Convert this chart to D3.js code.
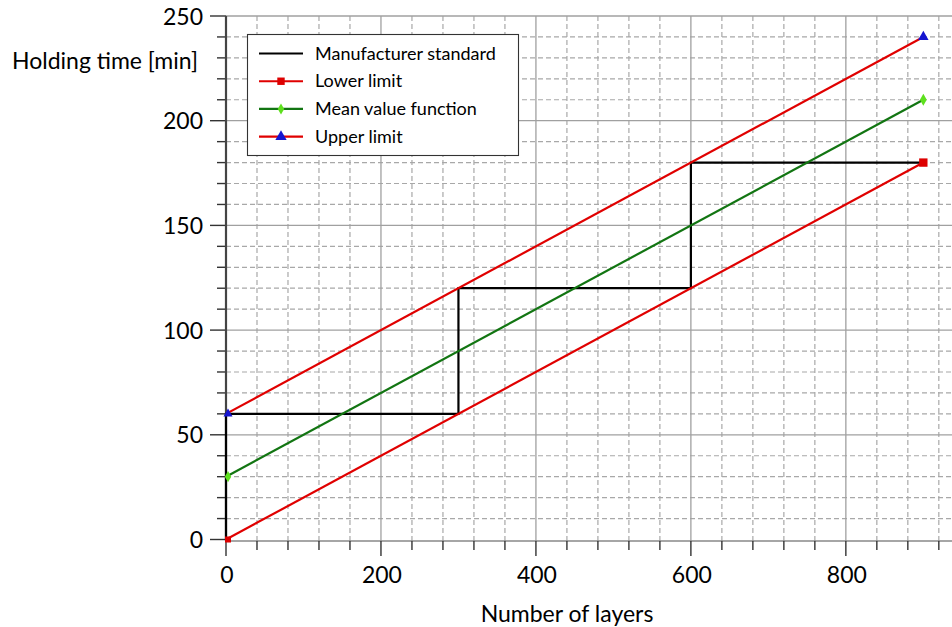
<!DOCTYPE html>
<html><head><meta charset="utf-8">
<script src="https://cdn.jsdelivr.net/npm/d3@7"></script>
<style>body{margin:0;background:#fff;} text{font-family:Lato,"Open Sans",sans-serif;}</style>
</head><body>
<svg id="c" width="952" height="627"></svg>
<script>
// ---- data ----
const stdX = [0, 0, 300, 300, 600, 600, 900];
const stdY = [0, 60, 60, 120, 120, 180, 180];
const limX = [0, 900];
const lowerY = [0, 180];
const meanY = [30, 210];
const upperY = [60, 240];
const xMajorTicks = [0, 200, 400, 600, 800];
const yMajorTicks = [0, 50, 100, 150, 200, 250];
const legendLabels = ["Manufacturer standard", "Lower limit", "Mean value function", "Upper limit"];
const xTitle = "Number of layers";
const yTitle = "Holding time [min]";

const svg = d3.select("#c");
const x = d3.scaleLinear().domain([0, 937]).range([226, 952]);
const y = d3.scaleLinear().domain([0, 250]).range([539.5, 16]);
const xMinor = d3.range(0, 937, 40);
const yMinor = d3.range(0, 251, 10);

const red = "#e00000", green = "#127512", black = "#000";

// grid
const g = svg.append("g");
g.selectAll(".hmin").data(yMinor.filter(v => v % 50 !== 0)).join("line")
  .attr("x1", x(0)).attr("x2", 952).attr("y1", d => y(d)).attr("y2", d => y(d))
  .attr("stroke", "#a8a8a8").attr("stroke-width", 1.2).attr("stroke-dasharray", "5,3");
g.selectAll(".vmin").data(xMinor.filter(v => v % 200 !== 0)).join("line")
  .attr("x1", d => x(d)).attr("x2", d => x(d)).attr("y1", y(250)).attr("y2", 541)
  .attr("stroke", "#a8a8a8").attr("stroke-width", 1.2).attr("stroke-dasharray", "5,3");
g.selectAll(".hmaj").data(yMajorTicks.filter(v => v > 0)).join("line")
  .attr("x1", x(0)).attr("x2", 952).attr("y1", d => y(d)).attr("y2", d => y(d))
  .attr("stroke", "#a0a0a0").attr("stroke-width", 1.3);
g.selectAll(".vmaj").data(xMajorTicks.filter(v => v > 0)).join("line")
  .attr("x1", d => x(d)).attr("x2", d => x(d)).attr("y1", y(250)).attr("y2", 541)
  .attr("stroke", "#a0a0a0").attr("stroke-width", 1.3);

// axes
const ax = svg.append("g");
ax.append("line").attr("x1", x(0)).attr("x2", 952).attr("y1", 541).attr("y2", 541)
  .attr("stroke", "#888").attr("stroke-width", 1.5);
ax.selectAll(".xt").data(xMinor).join("line")
  .attr("x1", d => x(d)).attr("x2", d => x(d)).attr("y1", 541)
  .attr("y2", d => d % 200 === 0 ? 556 : 550).attr("stroke", "#333").attr("stroke-width", 1.4);
ax.selectAll(".yt").data(yMinor).join("line")
  .attr("y1", d => y(d)).attr("y2", d => y(d)).attr("x1", x(0))
  .attr("x2", d => d % 50 === 0 ? x(0) - 16 : x(0) - 9).attr("stroke", "#333").attr("stroke-width", 1.4);
ax.selectAll(".xl").data(xMajorTicks).join("text")
  .attr("x", d => x(d) + 1).attr("y", 583).attr("text-anchor", "middle")
  .attr("font-size", 23).attr("fill", "#000").text(d => d);
ax.selectAll(".yl").data(yMajorTicks).join("text")
  .attr("x", 203).attr("y", d => y(d) + 8.5).attr("text-anchor", "end")
  .attr("font-size", 23).attr("fill", "#000").text(d => d);
ax.append("text").attr("x", 567).attr("y", 621.5).attr("text-anchor", "middle")
  .attr("font-size", 23).attr("fill", "#000").text(xTitle);
ax.append("text").attr("x", 12).attr("y", 69).attr("text-anchor", "start")
  .attr("font-size", 23).attr("fill", "#000").text(yTitle);

// lines
const line = d3.line().x(d => x(d[0])).y(d => y(d[1]));
const pl = svg.append("g").attr("fill", "none");
pl.append("path").datum(stdX.map((v, i) => [v, stdY[i]])).attr("d", line)
  .attr("stroke", black).attr("stroke-width", 2.2);
pl.append("path").datum(limX.map((v, i) => [v, lowerY[i]])).attr("d", line)
  .attr("stroke", red).attr("stroke-width", 2.2);
pl.append("path").datum(limX.map((v, i) => [v, meanY[i]])).attr("d", line)
  .attr("stroke", green).attr("stroke-width", 2.2);
pl.append("path").datum(limX.map((v, i) => [v, upperY[i]])).attr("d", line)
  .attr("stroke", red).attr("stroke-width", 2.2);

// y axis line on top
ax.append("line").attr("x1", x(0)).attr("x2", x(0)).attr("y1", y(250)).attr("y2", 541)
  .attr("stroke", "#444").attr("stroke-width", 2.2);

// markers
const sym = (type, size, fill, cx, cy) =>
  svg.append("path").attr("d", d3.symbol().type(type).size(size)())
    .attr("transform", `translate(${cx},${cy})`).attr("fill", fill);
const markers = [
  {type: d3.symbolSquare, fill: "#dd0000", ys: lowerY, end: 70},
  {type: d3.symbolDiamond, fill: "#5ee01e", ys: meanY, end: 40},
  {type: d3.symbolTriangle, fill: "#1515d0", ys: upperY, end: 48}
];
markers.forEach(m => {
  sym(m.type, 36, m.fill, x(limX[0]) + 2, y(m.ys[0]));
  sym(m.type, m.end, m.fill, x(limX[1]), y(m.ys[1]));
});

// legend
const lg = svg.append("g");
lg.append("rect").attr("x", 247.5).attr("y", 34.5).attr("width", 271).attr("height", 121)
  .attr("fill", "#fff").attr("stroke", "#333").attr("stroke-width", 1.1);
const lcol = [black, red, green, red];
const lrow = d3.scaleLinear().domain([0, 3]).range([53.5, 136.7]);
legendLabels.forEach((t, i) => {
  const cy = lrow(i);
  lg.append("line").attr("x1", 259).attr("x2", 303).attr("y1", cy).attr("y2", cy)
    .attr("stroke", lcol[i]).attr("stroke-width", 2.2);
  if (i > 0) {
    const m = markers[i - 1];
    lg.append("path").attr("d", d3.symbol().type(m.type).size(i === 2 ? 36 : 55)())
      .attr("transform", `translate(281,${cy})`).attr("fill", m.fill);
  }
  lg.append("text").attr("x", 315).attr("y", cy + 6).attr("font-size", 18)
    .attr("fill", "#000").text(t);
});
</script>
</body></html>
